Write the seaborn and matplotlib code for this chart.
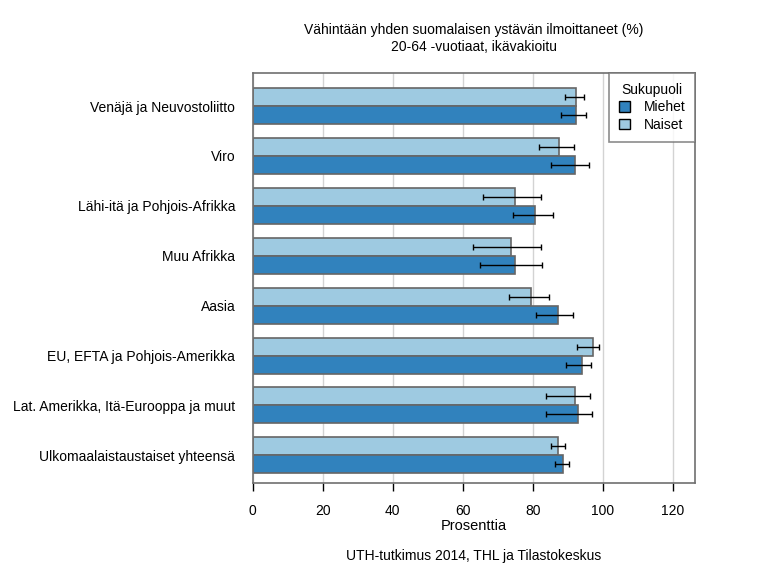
import seaborn as sns
import matplotlib.pyplot as plt
import matplotlib.patches as mpatches
import numpy as np
import pandas as pd

# Data
ryhmat = ['Venäjä ja Neuvostoliitto', 'Viro', 'Lähi-itä ja Pohjois-Afrikka', 'Muu Afrikka',
          'Aasia', 'EU, EFTA ja Pohjois-Amerikka', 'Lat. Amerikka, Itä-Eurooppa ja muut',
          'Ulkomaalaistaustaiset yhteensä']
miehet = [92.4, 92.1, 80.7, 75.0, 87.2, 94.0, 92.9, 88.6]
miehet_ala = [88.0, 85.1, 74.3, 65.0, 80.9, 89.4, 83.7, 86.3]
miehet_yla = [95.2, 96.0, 85.7, 82.6, 91.4, 96.6, 96.9, 90.3]
naiset = [92.2, 87.4, 74.9, 73.8, 79.4, 97.1, 92.0, 87.1]
naiset_ala = [89.1, 81.7, 65.7, 62.8, 73.1, 92.6, 83.7, 85.1]
naiset_yla = [94.6, 91.7, 82.4, 82.4, 84.6, 98.9, 96.3, 89.1]
x_ticks = [0, 20, 40, 60, 80, 100, 120]

df = pd.concat([
    pd.DataFrame({'ryhma': ryhmat, 'arvo': naiset, 'ala': naiset_ala, 'yla': naiset_yla, 'sukupuoli': 'Naiset'}),
    pd.DataFrame({'ryhma': ryhmat, 'arvo': miehet, 'ala': miehet_ala, 'yla': miehet_yla, 'sukupuoli': 'Miehet'}),
], ignore_index=True)

varit = {'Miehet': '#3182bd', 'Naiset': '#9ecae1'}

sns.set_style('white')
plt.rcParams['font.family'] = ['Liberation Sans', 'DejaVu Sans']
plt.rcParams['text.color'] = 'black'
plt.rcParams['xtick.color'] = 'black'
plt.rcParams['ytick.color'] = 'black'
plt.rcParams['axes.labelcolor'] = 'black'

fig = plt.figure(figsize=(7.68, 5.76), dpi=100)
ax = fig.add_axes([0.329, 0.161, 0.576, 0.712])

leveys = 0.72
sns.barplot(data=df, x='arvo', y='ryhma', hue='sukupuoli', order=ryhmat,
            hue_order=['Naiset', 'Miehet'], palette=varit, width=leveys,
            edgecolor='#666666', linewidth=1.2, saturation=1, errorbar=None,
            legend=False, ax=ax)

# virhepalkit
pos = np.arange(len(ryhmat))
for sp, siirto in [('Naiset', -leveys / 4), ('Miehet', leveys / 4)]:
    d = df[df['sukupuoli'] == sp]
    ax.errorbar(d['arvo'], pos + siirto,
                xerr=[d['arvo'] - d['ala'], d['yla'] - d['arvo']],
                fmt='none', ecolor='black', elinewidth=1, capsize=2.5, capthick=1, zorder=5)

ax.set_xlim(0, 126.3)
ax.set_ylim(7.56, -0.66)
ax.set_xticks(x_ticks)
ax.xaxis.grid(True, color='#d3d3d3', linewidth=1)
ax.set_axisbelow(True)
for s in ax.spines.values():
    s.set_color('#707070')
    s.set_linewidth(1.2)
ax.tick_params(axis='x', bottom=True, length=6, width=1, color='black', labelsize=10, pad=9)
ax.tick_params(axis='y', left=False, labelsize=10, pad=9)
ax.set_ylabel('')
ax.set_xlabel('Prosenttia', fontsize=10.5, labelpad=1)

# selite
kahvat = [mpatches.Patch(facecolor=varit[s], edgecolor='black', label=s) for s in ['Miehet', 'Naiset']]
leg = ax.legend(handles=kahvat, title='Sukupuoli', loc='upper right', bbox_to_anchor=(1.0, 1.0),
                frameon=True, fancybox=False, fontsize=10, title_fontsize=10,
                handlelength=0.8, handleheight=0.8, handletextpad=1.0, borderpad=0.7,
                labelspacing=0.25, borderaxespad=0)
leg.get_frame().set_edgecolor('#707070')
leg.get_frame().set_linewidth(1.2)

fig.text(0.617, 0.948, 'Vähintään yhden suomalaisen ystävän ilmoittaneet (%)', ha='center', va='center', fontsize=10)
fig.text(0.617, 0.918, '20-64 -vuotiaat, ikävakioitu', ha='center', va='center', fontsize=10)
fig.text(0.617, 0.035, 'UTH-tutkimus 2014, THL ja Tilastokeskus', ha='center', va='center', fontsize=10)

plt.savefig('out.png', dpi=100)
